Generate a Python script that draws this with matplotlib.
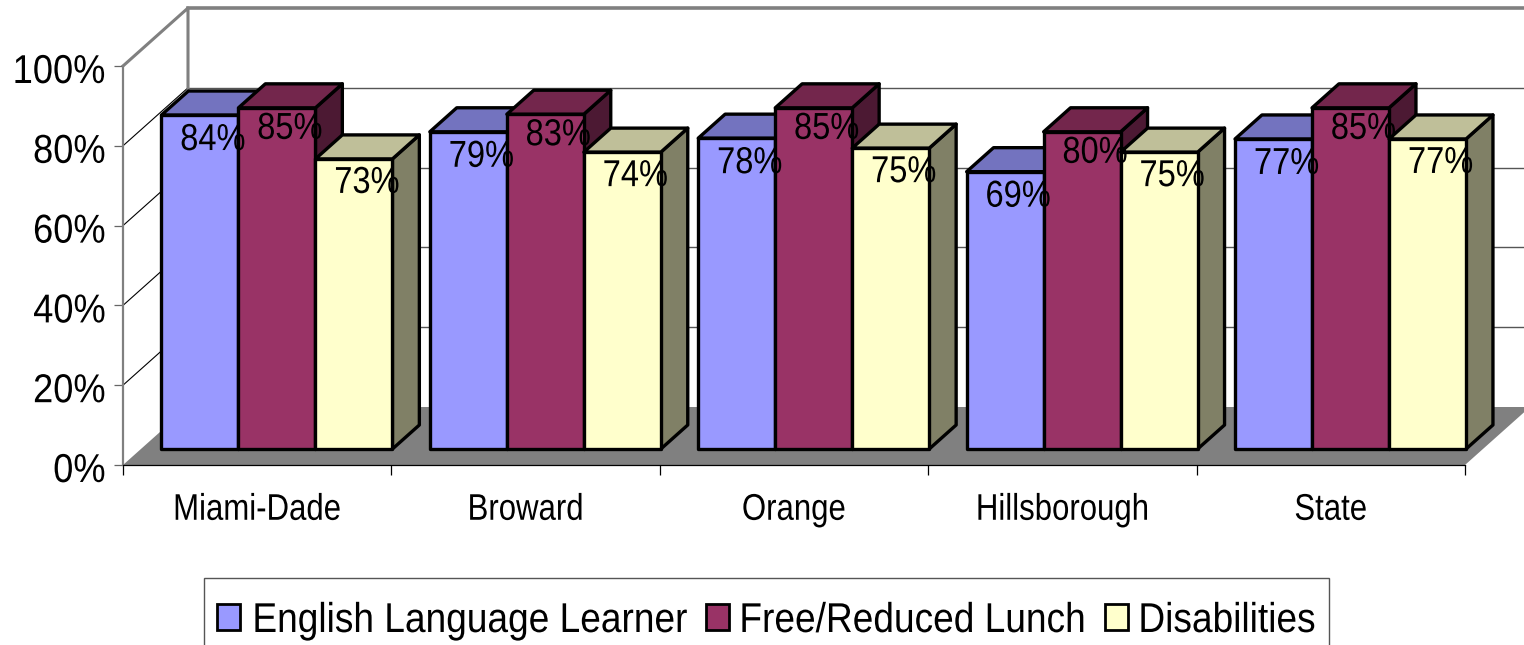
import matplotlib
matplotlib.use('Agg')
import matplotlib.pyplot as plt
from matplotlib.patches import Polygon, Rectangle
from matplotlib.patheffects import AbstractPathEffect
from matplotlib.transforms import Affine2D

plt.rcParams['font.family'] = ['Liberation Sans']

districts = ['Miami-Dade', 'Broward', 'Orange', 'Hillsborough', 'State']
series_names = ['English Language Learner', 'Free/Reduced Lunch', 'Disabilities']
# bar heights as drawn, the printed labels are rounded differently
ell = [83.7, 79.5, 77.9, 69.5, 77.7]
lunch = [85.5, 83.9, 85.5, 79.5, 85.5]
disabilities = [72.7, 74.4, 75.4, 74.4, 77.7]
ell_labels = [84, 79, 78, 69, 77]
lunch_labels = [85, 83, 85, 80, 85]
disabilities_labels = [73, 74, 75, 75, 77]
y_ticks = [0, 20, 40, 60, 80, 100]

front_colors = ['#9999FF', '#993366', '#FFFFCC']
top_colors = ['#7373BF', '#73264C', '#BFBF99']
side_colors = ['#737399', '#4C1933', '#808066']


# the original text is a squeezed arial, and no narrow font is installed
class Squeeze(AbstractPathEffect):
    def __init__(self, sx, anchor='center', down=0):
        super().__init__()
        self.sx = sx
        self.anchor = anchor
        self.down = down

    def draw_path(self, renderer, gc, tpath, affine, rgbFace=None):
        box = tpath.transformed(affine).get_extents()
        a = {'left': box.x0, 'center': (box.x0+box.x1)/2, 'right': box.x1}[self.anchor]
        sq = Affine2D().translate(-a, 0).scale(self.sx, 1).translate(a, -self.down)
        renderer.draw_path(gc, tpath, affine+sq, rgbFace)


W, H = 1524, 645
fig = plt.figure(figsize=(W/100, H/100), dpi=100)
ax = fig.add_axes([123/W, (H-465)/H, 1342/W, 399/H])
ax.set_xlim(0, 5)
ax.set_ylim(0, 100)

# depth of the 3d box, in data units
dx = 65/268.4
dy = 58/3.99
bar_w = 77/268.4
gap = 20.5/268.4
d_front = 0.276
d_back = 0.69


def shift(x, y, d):
    return (x+d*dx, y+d*dy)


# walls and floor
floor = Polygon([(0, 0), (5, 0), shift(5, 0, 1), shift(0, 0, 1)], facecolor='#808080', edgecolor='none', clip_on=False, zorder=1)
ax.add_patch(floor)
for t in y_ticks[1:-1]:
    ax.plot([0, dx], [t, t+dy], color='black', lw=0.8, clip_on=False, zorder=1)
    ax.plot([dx, 5+dx], [t+dy, t+dy], color='#555555', lw=1, clip_on=False, zorder=1)
ax.plot([0, dx, dx], [100, 100+dy, dy], color='#808080', lw=2.2, clip_on=False, zorder=1)
ax.plot([dx, 5+dx], [100+dy, 100+dy], color='#808080', lw=2.6, clip_on=False, zorder=1)

# bars
all_series = [ell, lunch, disabilities]
all_labels = [ell_labels, lunch_labels, disabilities_labels]
z = 3
for i in range(len(districts)):
    for s in range(3):
        v = all_series[s][i]
        x0 = i+gap+s*bar_w
        x1 = x0+bar_w
        front = [shift(x0, 0, d_front), shift(x1, 0, d_front), shift(x1, v, d_front), shift(x0, v, d_front)]
        top = [shift(x0, v, d_front), shift(x1, v, d_front), shift(x1, v, d_back), shift(x0, v, d_back)]
        side = [shift(x1, 0, d_front), shift(x1, 0, d_back), shift(x1, v, d_back), shift(x1, v, d_front)]
        for pts, col in [(side, side_colors[s]), (top, top_colors[s]), (front, front_colors[s])]:
            ax.add_patch(Polygon(pts, facecolor=col, edgecolor='black', lw=2.4, joinstyle='round', clip_on=False, zorder=z))
        z += 1

# value labels on top of everything
label_drop = [-25, -21, -24]
for i in range(len(districts)):
    for s in range(3):
        v = all_series[s][i]
        xc, yc = shift(i+gap+(s+0.5)*bar_w, v, d_front)
        ax.annotate(f'{all_labels[s][i]}%', (xc, yc), xytext=(13, label_drop[s]), textcoords='offset pixels', ha='center', va='center',
                    fontsize=27, color='black', zorder=50, annotation_clip=False,
                    path_effects=[Squeeze(0.87)])

for sp in ['top', 'right']:
    ax.spines[sp].set_visible(False)
ax.patch.set_alpha(0)
ax.spines['left'].set_color('#808080')
ax.spines['left'].set_linewidth(1.6)
ax.spines['bottom'].set_color('black')
ax.spines['bottom'].set_linewidth(0.9)

ax.set_yticks(y_ticks)
ax.set_yticklabels([f'{t}%' for t in y_ticks], fontsize=29)
ax.tick_params(axis='y', length=6.5, width=0.9, color='#666666', pad=6)
for t in ax.get_yticklabels():
    t.set_path_effects([Squeeze(0.9, 'right', down=2)])
ax.set_xticks(range(6))
ax.set_xticklabels([])
ax.tick_params(axis='x', length=7, width=0.9, color='black')
ax.set_xticks([i+0.5 for i in range(5)], minor=True)
ax.set_xticklabels(districts, minor=True, fontsize=26.7)
ax.tick_params(axis='x', which='minor', length=0, pad=20)
for t in ax.get_xticklabels(minor=True):
    t.set_path_effects([Squeeze(0.84)])

# legend box runs off the bottom of the picture, as in the original
legend_text_x = [252, 739, 1138]
legend_box_x = [217, 706, 1105]
fig.add_artist(Rectangle((204/W, -15/H), 1125/W, (H-578+15)/H, transform=fig.transFigure,
                         facecolor='white', edgecolor='#555555', lw=1))
for s in range(3):
    fig.add_artist(Rectangle((legend_box_x[s]/W, (H-630)/H), 23/W, 26/H, transform=fig.transFigure,
                             facecolor=front_colors[s], edgecolor='black', lw=2))
    fig.text(legend_text_x[s]/W, (H-632)/H, series_names[s], fontsize=30, ha='left', va='baseline',
             path_effects=[Squeeze(0.89, 'left')])

fig.savefig('out.png', dpi=100)
